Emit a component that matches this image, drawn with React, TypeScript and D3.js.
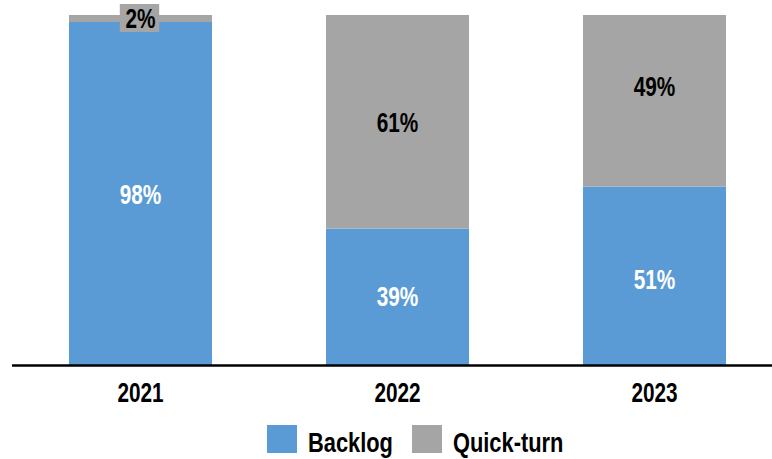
import React from "react";
import * as d3 from "d3";

const years = ["2021", "2022", "2023"];
const backlog = [0.98, 0.39, 0.51];
const quickTurn = [0.02, 0.61, 0.49];
const seriesNames = ["Backlog", "Quick-turn"];
const seriesColors = ["#5B9BD5", "#A5A5A5"];
const labelColors = ["#FFFFFF", "#000000"];

// manual label nudges (px) as in the source chart, [series][year]
const labelNudge = [
  [1, 0, 3.5],
  [0, 1, -14],
];

const W = 772;
const H = 459;
const FONT = "'Liberation Sans', Arial, sans-serif";

function NText({ x, y, children, anchor = "middle", size = 27, sx = 0.77, fill = "#000", dy = "0" }: any) {
  return (
    <text
      transform={`translate(${x},${y}) scale(${sx},1)`}
      textAnchor={anchor}
      fontSize={size}
      fill={fill}
      dy={dy}
    >
      {children}
    </text>
  );
}

export default function App() {
  const x = d3
    .scaleBand<string>()
    .domain(years)
    .range([12, 783])
    .paddingInner(0.4436)
    .paddingOuter(0.2218);
  const y = d3.scaleLinear().domain([0, 1]).range([365, 15]);

  const rows = years.map((yr, i) => ({ year: yr, Backlog: backlog[i], "Quick-turn": quickTurn[i] }));
  const stack = d3.stack<any>().keys(seriesNames)(rows);

  const fmt = (v: number) => `${Math.round(v * 100)}%`;

  return (
    <svg
      width={W}
      height={H}
      style={{ position: "absolute", left: 0, top: 0, background: "#fff" }}
      fontFamily={FONT}
      fontWeight="bold"
    >
      {stack.map((s, si) =>
        s.map((d, i) => (
          <rect
            key={`${si}-${i}`}
            x={x(years[i])}
            y={y(d[1])}
            width={x.bandwidth()}
            height={y(d[0]) - y(d[1])}
            fill={seriesColors[si]}
          />
        ))
      )}
      {stack.map((s, si) =>
        s.map((d, i) => {
          const cx = (x(years[i]) as number) + x.bandwidth() / 2;
          const cy = (y(d[0]) + y(d[1])) / 2 + labelNudge[si][i];
          const v = d[1] - d[0];
          const txt = fmt(v);
          const bw = (txt.length - 1) * 11.4 + 18 + 10;
          return (
            <g key={`l-${si}-${i}`}>
              {si === 1 && (
                <rect x={cx - bw / 2 - 1} y={cy - 14.5} width={bw} height={28} fill={seriesColors[si]} />
              )}
              <NText x={cx} y={cy} dy="0.36em" fill={labelColors[si]}>
                {txt}
              </NText>
            </g>
          );
        })
      )}
      <line x1={12} x2={W} y1={365.5} y2={365.5} stroke="#000" strokeWidth={2.5} />
      {years.map((yr) => (
        <NText key={yr} x={(x(yr) as number) + x.bandwidth() / 2} y={402}>
          {yr}
        </NText>
      ))}
      {seriesNames.map((n, i) => {
        const lx = [267, 412][i];
        return (
          <g key={n}>
            <rect x={lx} y={425} width={30} height={28} fill={seriesColors[i]} />
            <NText x={lx + 41} y={452} anchor="start" size={28} sx={0.78}>
              {n}
            </NText>
          </g>
        );
      })}
    </svg>
  );
}
